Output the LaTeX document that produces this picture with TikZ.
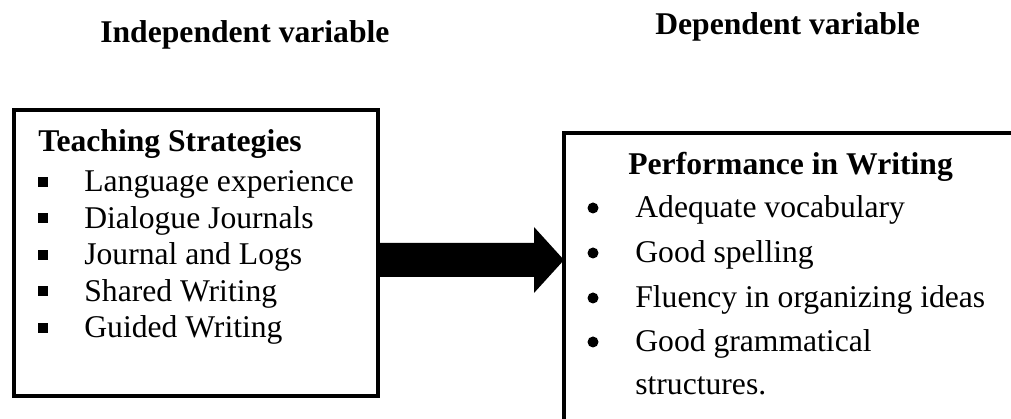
\documentclass[tikz,border=0pt]{standalone}
\usepackage{fontspec}
\setmainfont{Liberation Serif}
\usepackage{tikz}
\usetikzlibrary{positioning, calc}
\tikzset{
  frame/.style={draw, line width=0.08cm, inner sep=0pt, outer sep=0pt},
  itemtext/.style={font=\fontsize{18}{22}\selectfont, anchor=base west, inner sep=0pt},
  headtext/.style={font=\fontsize{18}{22}\selectfont\bfseries, anchor=base west, inner sep=0pt},
}

\begin{document}
\begin{tikzpicture}
  \useasboundingbox (0,0) rectangle (20.22,8.38);
  \clip (0,0) rectangle (20.22,8.38);

  % Column titles
  \node[headtext] (indep) at (2.0,7.52) {Independent variable};
  \node[headtext] (dep) at (13.1,7.68) {Dependent variable};

  % --- Left box: teaching strategies ---
  \node[frame, minimum width=7.28cm, minimum height=5.72cm] (strategies) at (3.92,3.32) {};
  \node[headtext] (stratTitle) at (0.76,5.34) {Teaching Strategies};
  \node[itemtext] (strat1) at (1.68,4.54) {Language experience};
  \node[itemtext] (strat2) at (1.68,3.81) {Dialogue Journals};
  \node[itemtext] (strat3) at (1.68,3.08) {Journal and Logs};
  \node[itemtext] (strat4) at (1.68,2.35) {Shared Writing};
  \node[itemtext] (strat5) at (1.68,1.62) {Guided Writing};
  % square bullets
  \fill (0.76,4.64) rectangle (0.96,4.84);
  \fill (0.76,3.91) rectangle (0.96,4.11);
  \fill (0.76,3.18) rectangle (0.96,3.38);
  \fill (0.76,2.45) rectangle (0.96,2.65);
  \fill (0.76,1.72) rectangle (0.96,1.92);

  % --- Right box: performance in writing (runs off the page) ---
  \node[frame, minimum width=9.72cm, minimum height=6.22cm] (performance) at (16.14,2.61) {};
  \node[headtext] (perfTitle) at (12.56,4.88) {Performance in Writing};
  \node[itemtext] (perf1) at (12.7,4.02) {Adequate vocabulary};
  \node[itemtext] (perf2) at (12.7,3.12) {Good spelling};
  \node[itemtext] (perf3) at (12.7,2.22) {Fluency in organizing ideas};
  \node[itemtext] (perf4) at (12.7,1.34) {Good grammatical};
  \node[itemtext] (perf4b) at (12.7,0.48) {structures.};
  % round bullets
  \fill (11.86,4.22) circle (0.11);
  \fill (11.86,3.32) circle (0.11);
  \fill (11.86,2.42) circle (0.11);
  \fill (11.86,1.54) circle (0.11);

  % Block arrow between the boxes
  \coordinate (tail) at ($(strategies.east)+(0,-0.14)$);
  \coordinate (tip) at (performance.west |- tail);
  \fill ($(tail)+(0,0.34)$) -- ($(tip)+(-0.6,0.34)$) -- ($(tip)+(-0.6,0.66)$) -- (tip)
        -- ($(tip)+(-0.6,-0.66)$) -- ($(tip)+(-0.6,-0.34)$) -- ($(tail)+(0,-0.34)$) -- cycle;
\end{tikzpicture}
\end{document}
